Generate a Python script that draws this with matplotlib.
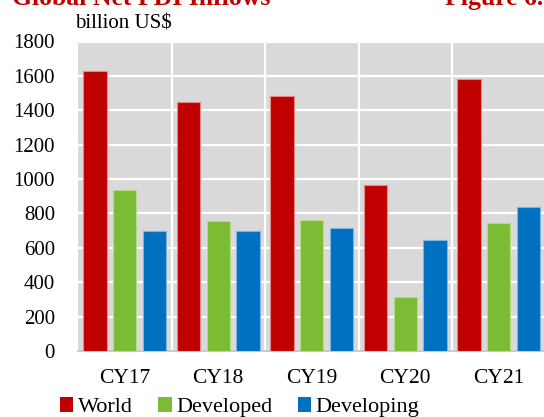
import matplotlib
matplotlib.use("Agg")
import matplotlib.pyplot as plt
import numpy as np
from matplotlib.patches import Patch

categories = ["CY17", "CY18", "CY19", "CY20", "CY21"]
world = [1630, 1450, 1482, 963, 1580]
developed = [937, 755, 764, 316, 745]
developing = [695, 695, 715, 643, 836]
series_names = ["World", "Developed", "Developing"]
colors = ["#C00000", "#7CBB34", "#0070C0"]
edge_colors = ["#E08A8A", "#B5DA8C", "#7FB5E0"]

plt.rcParams["font.family"] = ["Liberation Serif", "DejaVu Serif"]

W, H = 544, 417
fig = plt.figure(figsize=(W / 100, H / 100), dpi=100)
left, right, top, bottom = 78, 545.5, 41.5, 351
ax = fig.add_axes([left / W, (H - bottom) / H, (right - left) / W, (bottom - top) / H])
ax.set_facecolor("#D9D9D9")

x = np.arange(len(categories))
width = 0.25
offsets = [-0.317, 0.0, 0.317]
for vals, off, c, ec in zip([world, developed, developing], offsets, colors, edge_colors):
    ax.bar(x + off, vals, width, color=c, edgecolor=ec, linewidth=0.8, zorder=3)

ax.set_xlim(-0.5, len(categories) - 0.5)
ax.set_ylim(0, 1800)
ax.set_yticks(np.arange(0, 1801, 200))
ax.set_xticks(x)
ax.set_xticklabels(categories)
ax.set_xticks(np.arange(0.5, len(categories) - 0.5, 1), minor=True)
ax.grid(axis="y", which="major", color="white", linewidth=1.6, zorder=1)
ax.grid(axis="x", which="minor", color="white", linewidth=1.6, zorder=1)
ax.grid(axis="x", which="major", visible=False)
ax.tick_params(axis="both", which="both", length=0)
ax.tick_params(axis="y", pad=16.5, labelsize=15)
ax.tick_params(axis="x", pad=13, labelsize=15.5)
for s in ["top", "right", "left"]:
    ax.spines[s].set_visible(False)
ax.spines["bottom"].set_color("#BFBFBF")
ax.spines["bottom"].set_linewidth(1.2)

fig.text(12 / W, 1 - 5 / H, "Global Net FDI Inflows", color="#C00000",
         fontsize=18.5, fontweight="bold", ha="left", va="baseline")
fig.text(445 / W, 1 - 5 / H, "Figure 6.1", color="#C00000",
         fontsize=18.5, fontweight="bold", ha="left", va="baseline")
fig.text(75 / W, 1 - 29 / H, "billion US$", fontsize=15, ha="left", va="baseline")

handles = [Patch(facecolor=c, edgecolor="none") for c in colors]
fig.legend(handles, series_names, loc="center left", bbox_to_anchor=(60 / W, 1 - 407 / H),
           ncol=3, frameon=False, fontsize=16, handlelength=0.6, handleheight=0.65,
           handletextpad=0.2, columnspacing=1.15, borderaxespad=0, borderpad=0)

fig.savefig("out.png", dpi=100)
